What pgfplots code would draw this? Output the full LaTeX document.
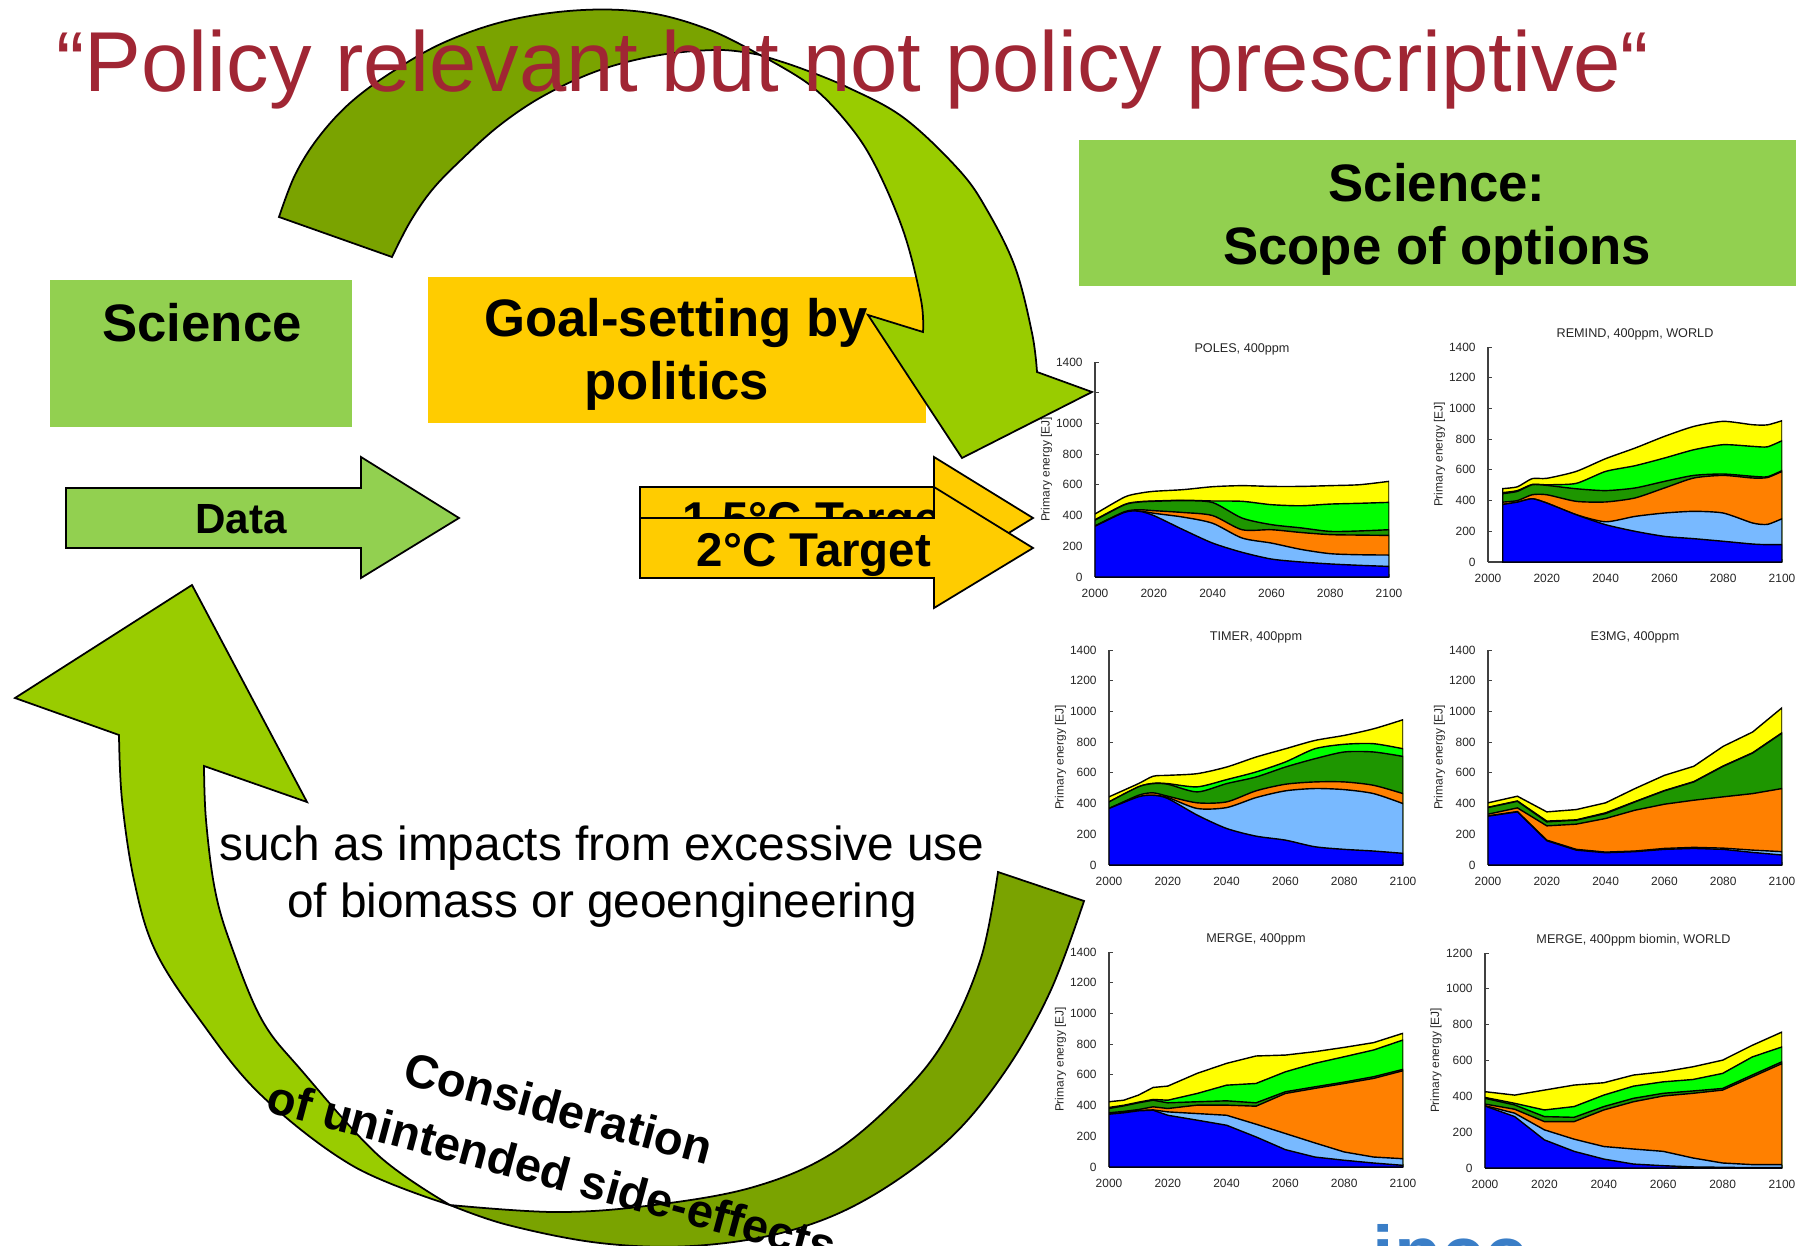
\documentclass[border=0pt]{standalone}
\usepackage{fontspec}
\setmainfont{Liberation Sans}
\usepackage{pgfplots}
\usepackage{pgfplotstable}
\pgfplotsset{compat=1.18}

\definecolor{titlered}{RGB}{160,38,52}
\definecolor{boxgreen}{RGB}{146,208,80}
\definecolor{boxyellow}{RGB}{255,204,0}
\definecolor{arrlight}{RGB}{153,204,0}
\definecolor{arrdark}{RGB}{122,163,0}
\definecolor{ipccblue}{RGB}{58,126,199}
\definecolor{cblue}{RGB}{0,0,255}
\definecolor{clblue}{RGB}{120,185,255}
\definecolor{corange}{RGB}{255,128,0}
\definecolor{cdgreen}{RGB}{30,150,0}
\definecolor{cgreen}{RGB}{0,255,0}
\definecolor{cyellow}{RGB}{255,255,0}

% cumulative boundaries (EJ): c1 blue top, c2 light blue top, c3 orange top,
% c4 dark green top, c5 green top, c6 total (yellow top)
\pgfplotstableread{
year c1 c2 c3 c4 c5 c6
2000 330 330 333 370 373 410
2010 421 421 425 470 472 520
2015 428 430 438 488 490 545
2020 400 415 432 493 495 558
2030 308 390 420 497 500 569
2040 221 350 400 485 495 588
2050 161 254 308 384 493 595
2060 117 221 308 341 471 590
2070 98 180 290 320 464 590
2080 85 152 276 297 475 595
2090 76 145 273 300 480 601
2100 69 143 271 308 486 623
}\tabPOLES
\pgfplotstableread{
year c1 c2 c3 c4 c5 c6
2005 375 375 390 445 452 478
2010 390 390 400 460 465 490
2015 412 412 438 503 505 543
2020 384 384 438 499 503 545
2030 308 308 395 477 512 590
2040 243 262 391 465 590 673
2050 200 297 417 482 627 742
2060 167 319 482 525 677 818
2070 152 330 547 564 731 883
2080 135 319 564 573 764 916
2090 117 254 547 558 753 894
2095 113 245 550 555 750 893
2100 113 282 590 595 790 920
}\tabREMIND
\pgfplotstableread{
year c1 c2 c3 c4 c5 c6
2000 368 368 368 411 411 444
2010 444 444 454 509 509 530
2015 454 454 470 530 532 578
2020 433 440 448 526 530 584
2030 325 368 405 476 509 595
2040 238 374 411 530 556 638
2050 188 439 483 573 606 703
2060 162 483 526 638 671 757
2070 119 498 541 692 757 811
2080 102 491 541 736 786 844
2090 91 465 519 736 790 887
2100 76 400 465 707 757 946
}\tabTIMER
\pgfplotstableread{
year c1 c2 c3 c4 c5 c6
2000 318 320 331 374 376 405
2010 346 348 372 415 417 448
2020 158 162 255 281 286 346
2030 97 102 266 292 294 361
2040 80 84 303 335 340 405
2050 87 91 357 411 413 498
2060 102 108 396 483 485 584
2070 108 115 422 541 543 643
2080 102 110 444 643 645 773
2090 82 97 465 729 731 866
2100 65 87 498 859 861 1024
}\tabEMG
\pgfplotstableread{
year c1 c2 c3 c4 c5 c6
2000 344 346 353 381 388 425
2005 353 355 362 398 402 435
2010 366 368 374 418 422 468
2015 370 372 392 435 440 518
2020 337 359 381 418 435 527
2030 305 348 403 425 479 610
2040 272 337 403 431 533 675
2050 196 279 396 418 544 723
2060 113 218 479 490 620 729
2070 65 157 512 522 675 751
2080 44 98 544 553 718 779
2090 26 65 577 588 762 810
2100 11 54 627 636 827 871
}\tabMERGE
\pgfplotstableread{
year c1 c2 c3 c4 c5 c6
2000 346 348 357 389 394 426
2010 287 306 328 352 361 407
2020 157 213 259 287 324 435
2030 93 161 259 283 343 463
2040 50 120 324 343 407 476
2050 22 106 370 389 457 519
2060 13 93 402 417 481 537
2070 6 56 417 430 494 565
2080 4 28 435 444 528 602
2090 2 19 509 519 620 685
2100 2 19 583 593 676 759
}\tabBIOMIN

\pgfplotsset{
  panel/.style={
    scale only axis, width=29.4mm, height=21.5mm,
    xmin=2000, xmax=2100, ymin=0, ymax=1400,
    enlargelimits=false,
    axis lines*=left,
    axis line style={black!75, line width=0.3pt},
    xtick={2000,2020,2040,2060,2080,2100},
    ytick={0,200,...,1400},
    tick align=inside,
    major tick length=0.35mm,
    tick style={black!75, line width=0.25pt},
    scaled ticks=false,
    /pgf/number format/assume math mode=true,
    /pgf/number format/1000 sep={},
    tick label style={font=\fontsize{3.4pt}{4pt}\selectfont, text=black!85},
    ylabel={Primary energy [EJ]},
    every axis y label/.style={at={(axis description cs:-0.165,0.5)}, anchor=center, rotate=90,
      font=\fontsize{3.4pt}{4pt}\selectfont, text=black!85},
    every axis title/.style={at={(0.5,1)}, anchor=base, yshift=2.8pt, inner sep=0pt,
      font=\fontsize{3.6pt}{4pt}\selectfont, text=black!85},
  },
  layer/.style={fill=#1, draw=black, line width=0.4pt},
}

\newcommand{\stackarea}[2][]{%
  \addplot[layer=cyellow,#1] table[x=year,y=c6]{#2} \closedcycle;
  \addplot[layer=cgreen,#1] table[x=year,y=c5]{#2} \closedcycle;
  \addplot[layer=cdgreen,#1] table[x=year,y=c4]{#2} \closedcycle;
  \addplot[layer=corange,#1] table[x=year,y=c3]{#2} \closedcycle;
  \addplot[layer=clblue,#1] table[x=year,y=c2]{#2} \closedcycle;
  \addplot[layer=cblue,#1] table[x=year,y=c1]{#2} \closedcycle;
}

\tikzset{flip/.style={shift={(0,1245)}, yscale=-1},
  outl/.style={draw=black, line width=0.5pt, line join=miter}}

\newcommand{\bx}{\fontsize{15pt}{18pt}\selectfont\bfseries}

\begin{document}
\begin{tikzpicture}[x=0.1mm, y=0.1mm]
\path[use as bounding box] (0,0) rectangle (1809,1245);
\clip (0,0) rectangle (1809,1245);

% ---------------- charts ----------------
\begin{axis}[panel, at={(109.5mm,66.8mm)}, anchor=south west, title={POLES, 400ppm}]
\stackarea[smooth, tension=0.45]{\tabPOLES}
\end{axis}
\begin{axis}[panel, at={(148.8mm,68.3mm)}, anchor=south west, title={REMIND, 400ppm, WORLD}]
\stackarea[smooth, tension=0.4]{\tabREMIND}
\end{axis}
\begin{axis}[panel, at={(110.9mm,38.0mm)}, anchor=south west, title={TIMER, 400ppm}]
\stackarea[smooth, tension=0.45]{\tabTIMER}
\end{axis}
\begin{axis}[panel, at={(148.8mm,38.0mm)}, anchor=south west, title={E3MG, 400ppm}]
\stackarea{\tabEMG}
\end{axis}
\begin{axis}[panel, at={(110.9mm,7.8mm)}, anchor=south west, title={MERGE, 400ppm}]
\stackarea{\tabMERGE}
\end{axis}
\begin{axis}[panel, at={(148.5mm,7.7mm)}, anchor=south west, width=29.7mm,
  ymax=1200, ytick={0,200,...,1200}, title={MERGE, 400ppm biomin, WORLD}]
\stackarea{\tabBIOMIN}
\end{axis}

% ---------------- boxes ----------------
\begin{scope}[flip]
\fill[boxgreen] (50,280) rectangle (352,427);
\fill[boxyellow] (428,277) rectangle (926,423);
\fill[boxgreen] (1079,140) rectangle (1796,286);
\end{scope}
\node[anchor=base, inner sep=0pt, font=\bx] at (202,904) {Science};
\node[anchor=base, inner sep=0pt, font=\bx] at (676,908) {Goal-setting by};
\node[anchor=base, inner sep=0pt, font=\bx] at (677,846) {politics};
\node[anchor=base, inner sep=0pt, font=\bx] at (1437,1043) {Science:};
\node[anchor=base, inner sep=0pt, font=\bx] at (1437,980) {Scope of options};

% Data arrow
\begin{scope}[flip]
\filldraw[fill=boxgreen, outl] (66,488) -- (361,488) -- (361,457) -- (459,518) -- (361,578) -- (361,548) -- (66,548) -- cycle;
\end{scope}
\node[anchor=base, inner sep=0pt, font=\fontsize{12pt}{14pt}\selectfont\bfseries] at (241,712) {Data};

% Target arrows
\begin{scope}[flip]
\filldraw[fill=boxyellow, outl] (640,487) -- (934,487) -- (934,457) -- (1033,518) -- (934,579) -- (934,549) -- (640,549) -- cycle;
\end{scope}
\node[anchor=base west, inner sep=0pt, font=\fontsize{13.5pt}{16pt}\selectfont\bfseries] at (682,710) {1.5°C Target};
\begin{scope}[flip]
\filldraw[fill=boxyellow, outl] (640,518) -- (934,518) -- (934,487) -- (1033,548) -- (934,608) -- (934,578) -- (640,578) -- cycle;
\end{scope}
\node[anchor=base, inner sep=0pt, font=\fontsize{13.5pt}{16pt}\selectfont\bfseries] at (814,679) {2°C Target};

% ---------------- curved arrows ----------------
\begin{scope}[flip]
% top arrow, dark part
\filldraw[fill=arrdark, outl]
  plot[smooth, tension=0.6] coordinates {(279,217) (295,175) (318,138) (350,103) (392,72) (445,42) (510,20) (583,10) (650,13) (710,30) (760,55)}
  -- plot[smooth, tension=0.6] coordinates {(760,55) (720,50) (660,55) (600,70) (545,95) (500,125) (461,160) (432,190) (410,222) (392,257)}
  -- cycle;
% top arrow, light part with head
\filldraw[fill=arrlight, outl]
  plot[smooth, tension=0.6] coordinates {(760,55) (800,68) (849,88) (904,118) (959,170) (987,210) (1015,267) (1032,333) (1037,372)}
  -- (1092,392) -- (962,458) -- (868,315) -- (923,332)
  -- plot[smooth, tension=0.6] coordinates {(923,332) (921,300) (904,233) (876,167) (849,125) (810,85) (760,55)}
  -- cycle;
% bottom arrow, dark part
\filldraw[fill=arrdark, outl]
  plot[smooth, tension=0.6] coordinates {(450,1205) (508,1225) (600,1243) (692,1246) (785,1232) (865,1200) (946,1142) (1004,1073) (1050,992) (1084,901)}
  -- (998,872)
  -- plot[smooth, tension=0.6] coordinates {(998,872) (981,958) (946,1038) (900,1096) (831,1154) (750,1188) (646,1206) (554,1212) (450,1205)}
  -- cycle;
% bottom arrow, light part with head
\filldraw[fill=arrlight, outl]
  (192,585) -- (307,802) -- (204,766)
  -- plot[smooth, tension=0.6] coordinates {(204,766) (206,820) (215,890) (231,945) (262,1020) (302,1071) (379,1156) (450,1205)}
  -- plot[smooth, tension=0.6] coordinates {(450,1205) (353,1166) (261,1095) (200,1020) (155,950) (134,880) (122,800) (119,735)}
  -- (15,698) -- cycle;
\end{scope}

% ---------------- texts ----------------
\node[anchor=base, inner sep=0pt, font=\fontsize{13.6pt}{16pt}\selectfont] at (602,385) {such as impacts from excessive use};
\node[anchor=base, inner sep=0pt, font=\fontsize{13.6pt}{16pt}\selectfont] at (602,328) {of biomass or geoengineering};
\node[rotate=-15, inner sep=0pt, font=\fontsize{13.4pt}{16pt}\selectfont\bfseries] at (559,137) {Consideration};
\node[rotate=-15, inner sep=0pt, font=\fontsize{13.4pt}{16pt}\selectfont\bfseries] at (552,74) {of unintended side-effects};

\node[anchor=base west, inner sep=0pt, text=ipccblue, font=\fontsize{22pt}{26pt}\selectfont\bfseries] at (1372,-35) {ipcc};

\node[anchor=base, inner sep=0pt, text=titlered, font=\fontsize{24.2pt}{29pt}\selectfont] at (853,1153) {“Policy relevant but not policy prescriptive“};
\end{tikzpicture}
\end{document}
